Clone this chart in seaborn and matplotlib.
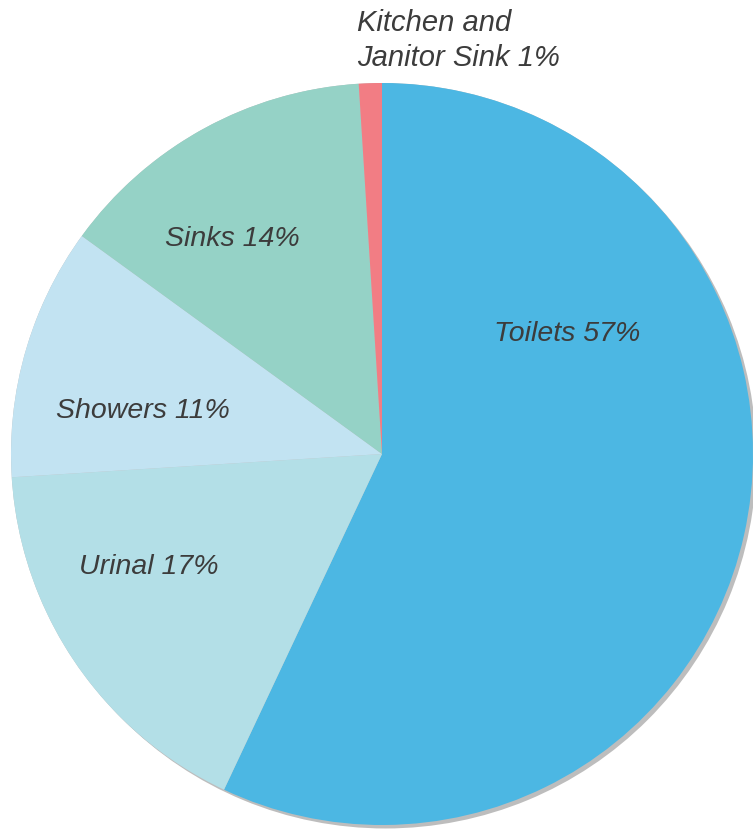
import matplotlib
matplotlib.use("Agg")
import matplotlib.pyplot as plt
import matplotlib.patheffects as pe
import seaborn as sns

categories = ["Toilets", "Urinal", "Showers", "Sinks", "Kitchen and\nJanitor Sink"]
shares = [57, 17, 11, 14, 1]
colors = ["#4cb7e3", "#b3dfe7", "#c2e3f2", "#95d2c6", "#f27d84"]

# label placement (in pie radius units) and alignment
label_pos = [(0.50, 0.324), (-0.628, -0.304), (-0.644, 0.116), (-0.402, 0.580), (-0.068, 1.114)]
label_ha = ["center", "center", "center", "center", "left"]

sns.set_style("white")
plt.rcParams["font.family"] = ["Liberation Sans", "DejaVu Sans"]

fig = plt.figure(figsize=(7.53, 8.30), dpi=100)
r_px = 371
cx, cy = 382, 830 - 454
ax = fig.add_axes([(cx - r_px) / 753, (cy - r_px) / 830, 2 * r_px / 753, 2 * r_px / 830])

# drop shadow behind the pie
ax.pie([sum(shares)], colors=["#bdbdbd"], startangle=90,
       wedgeprops={"clip_on": False, "linewidth": 0,
                   "path_effects": [pe.withSimplePatchShadow(offset=(2.5, -2.5),
                                                             shadow_rgbFace="#bdbdbd",
                                                             alpha=1)]})
ax.pie(shares, colors=colors, startangle=90, counterclock=False,
       wedgeprops={"clip_on": False, "linewidth": 0})

for cat, val, (x, y), ha in zip(categories, shares, label_pos, label_ha):
    ax.text(x, y, f"{cat} {val}%", ha=ha, va="center",
            fontsize=21 if ha == "left" else 20.5,
            style="italic", color="#3c3c3c", linespacing=1.3)

ax.set_xlim(-1, 1)
ax.set_ylim(-1, 1)
ax.set_aspect("auto")
ax.axis("off")

fig.savefig("out.png", dpi=100)
